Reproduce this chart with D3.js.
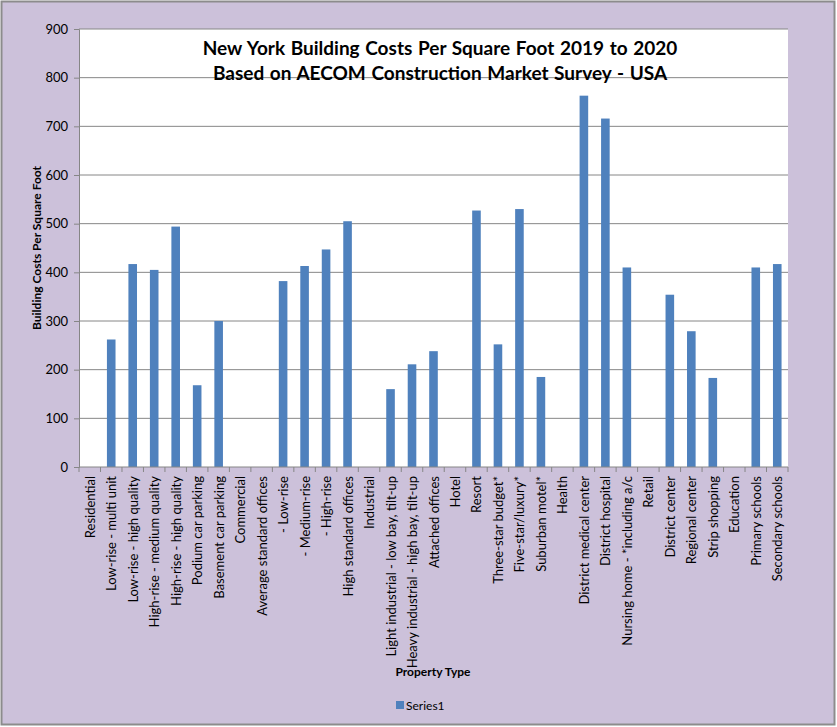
<!DOCTYPE html>
<html>
<head>
<meta charset="utf-8">
<script src="https://cdn.jsdelivr.net/npm/d3@7"></script>
<style>
  body { margin: 0; background: #fff; }
  text { font-family: Lato, "Open Sans", sans-serif; }
</style>
</head>
<body>
<svg width="837" height="727"></svg>
<script>
const categories = [
  "Residential", "Low-rise - multi unit", "Low-rise - high quality",
  "High-rise - medium quality", "High-rise - high quality", "Podium car parking",
  "Basement car parking", "Commercial", "Average standard offices", " - Low-rise",
  " - Medium-rise", " - High-rise", "High standard offices", "Industrial",
  "Light industrial - low bay, tilt-up", "Heavy industrial - high bay, tilt-up",
  "Attached offices", "Hotel", "Resort", "Three-star budget*", "Five-star/luxury*",
  "Suburban motel*", "Health", "District medical center", "District hospital",
  "Nursing home - *including a/c", "Retail", "District center", "Regional center",
  "Strip shopping", "Education", "Primary schools", "Secondary schools"
];
const values = [
  0, 262, 417, 405, 494, 168, 300, 0, 0, 382, 413, 447, 505, 0, 160, 211, 238,
  0, 527, 252, 530, 185, 0, 763, 716, 410, 0, 354, 279, 183, 0, 410, 417
];
const yTicks = [0, 100, 200, 300, 400, 500, 600, 700, 800, 900];
const titleLines = [
  "New York Building Costs Per Square Foot 2019 to 2020",
  "Based on AECOM Construction Market Survey - USA"
];

const data = categories.map((c, i) => ({ category: c, value: values[i], key: i }));

const svg = d3.select("svg");
const width = +svg.attr("width");
const height = +svg.attr("height");

// chart background + frame
svg.append("rect")
  .attr("x", 1.5).attr("y", 1.5)
  .attr("width", width - 4).attr("height", height - 4)
  .attr("fill", "#ccc1da")
  .attr("stroke", "#8c8c8c")
  .attr("stroke-width", 2);

const margin = { top: 29, left: 79, right: 49, bottom: 260 };
const innerWidth = width - margin.left - margin.right;
const innerHeight = height - margin.top - margin.bottom;

const g = svg.append("g")
  .attr("transform", `translate(${margin.left},${margin.top})`);

g.append("rect")
  .attr("width", innerWidth).attr("height", innerHeight)
  .attr("fill", "#fff");

const xScale = d3.scaleBand()
  .domain(data.map(d => d.key))
  .range([0, innerWidth])
  .paddingInner(0.6)
  .paddingOuter(0.3);

const yScale = d3.scaleLinear()
  .domain([0, 900])
  .range([innerHeight, 0]);

// gridlines
g.append("g")
  .selectAll("line")
  .data(yTicks.slice(1))
  .join("line")
  .attr("x1", 0).attr("x2", innerWidth)
  .attr("y1", d => yScale(d)).attr("y2", d => yScale(d))
  .attr("stroke", "#868686")
  .attr("stroke-width", 1);

// bars
g.selectAll(".bar")
  .data(data)
  .join("rect")
  .attr("class", "bar")
  .attr("x", d => xScale(d.key))
  .attr("width", xScale.bandwidth())
  .attr("y", d => yScale(d.value))
  .attr("height", d => innerHeight - yScale(d.value))
  .attr("fill", "#4f81bd");

// y axis
const yAxis = d3.axisLeft(yScale).tickValues(yTicks).tickSize(5).tickPadding(6);
const yAxisG = g.append("g").call(yAxis);
yAxisG.selectAll("path, line").attr("stroke", "#868686");
yAxisG.selectAll("text")
  .style("font-size", "13px")
  .attr("fill", "#000");

// x axis: ticks on category boundaries
const boundaryScale = d3.scaleLinear().domain([0, categories.length]).range([0, innerWidth]);
const xAxisG = g.append("g").attr("transform", `translate(0,${innerHeight})`);
xAxisG.append("line")
  .attr("x1", 0).attr("x2", innerWidth)
  .attr("stroke", "#868686");
xAxisG.selectAll(".tk")
  .data(d3.range(categories.length + 1))
  .join("line")
  .attr("class", "tk")
  .attr("x1", d => boundaryScale(d)).attr("x2", d => boundaryScale(d))
  .attr("y1", 0).attr("y2", 5)
  .attr("stroke", "#868686");
xAxisG.selectAll(".lbl")
  .data(data)
  .join("text")
  .attr("class", "lbl")
  .attr("transform", d => `translate(${xScale(d.key) + xScale.bandwidth() / 2 + 5},9) rotate(-90)`)
  .attr("text-anchor", "end")
  .style("font-size", "13px")
  .attr("fill", "#000")
  .text(d => d.category);

// title
svg.append("text")
  .attr("x", 440).attr("y", 55)
  .attr("text-anchor", "middle")
  .style("font-size", "19px")
  .style("font-weight", "bold")
  .style("word-spacing", "1px")
  .selectAll("tspan")
  .data(titleLines)
  .join("tspan")
  .attr("x", 440)
  .attr("dy", (d, i) => i === 0 ? 0 : 25)
  .text(d => d);

// y axis title
svg.append("text")
  .attr("transform", `translate(41,${margin.top + innerHeight / 2}) rotate(-90)`)
  .attr("text-anchor", "middle")
  .style("font-size", "12px")
  .style("font-weight", "bold")
  .text("Building Costs Per Square Foot");

// x axis title
svg.append("text")
  .attr("x", 433).attr("y", 676)
  .attr("text-anchor", "middle")
  .style("font-size", "12px")
  .style("font-weight", "bold")
  .text("Property Type");

// legend
const legend = svg.append("g").attr("transform", "translate(396,701)");
legend.append("rect").attr("width", 8).attr("height", 8).attr("fill", "#4f81bd");
legend.append("text")
  .attr("x", 10).attr("y", 8.5)
  .style("font-size", "12px")
  .text("Series1");
</script>
</body>
</html>
